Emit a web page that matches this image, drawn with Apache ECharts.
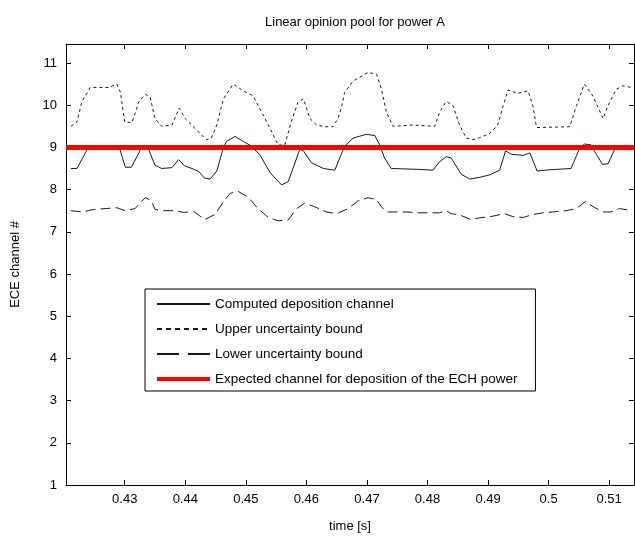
<!DOCTYPE html>
<html>
<head>
<meta charset="utf-8">
<script src="https://cdn.jsdelivr.net/npm/echarts@6/dist/echarts.min.js"></script>
<style>html,body{margin:0;padding:0;background:#fff}#c{width:635px;height:538px}</style>
</head>
<body>
<div id="c"></div>
<script>
// ---- data ----
const computedTimes = [0.4211,0.4221,0.4240,0.4265,0.4291,0.4301,0.4311,0.4328,0.4338,0.4350,0.4361,0.4378,0.4389,0.4399,0.4411,0.4422,0.4432,0.4441,0.4452,0.4463,0.4468,0.4482,0.4496,0.4507,0.4523,0.4540,0.4559,0.4570,0.4589,0.4595,0.4608,0.4628,0.4647,0.4655,0.4663,0.4677,0.4699,0.4713,0.4721,0.4729,0.4740,0.4784,0.4809,0.4820,0.4831,0.4839,0.4856,0.4870,0.4886,0.4903,0.4919,0.4929,0.4938,0.4958,0.4969,0.4981,0.5002,0.5037,0.5051,0.5059,0.5070,0.5079,0.5089,0.5098,0.5109,0.5125,0.5140];
const computedValues = [8.50,8.50,9.00,9.02,9.00,8.53,8.53,9.00,9.00,8.58,8.50,8.52,8.71,8.56,8.50,8.43,8.27,8.25,8.44,9.00,9.14,9.26,9.14,9.05,8.83,8.40,8.11,8.19,8.95,8.92,8.64,8.50,8.46,8.75,9.02,9.22,9.31,9.28,9.06,8.75,8.50,8.48,8.46,8.66,8.78,8.75,8.36,8.25,8.29,8.35,8.46,8.92,8.84,8.81,8.87,8.44,8.47,8.50,8.97,9.08,9.06,8.83,8.60,8.61,8.95,9.00,9.00];

const upperTimes = [0.4211,0.4221,0.4229,0.4243,0.4273,0.4287,0.4293,0.4300,0.4312,0.4323,0.4334,0.4342,0.4350,0.4361,0.4378,0.4390,0.4400,0.4419,0.4435,0.4443,0.4452,0.4463,0.4479,0.4496,0.4512,0.4526,0.4540,0.4553,0.4564,0.4575,0.4586,0.4595,0.4606,0.4617,0.4630,0.4644,0.4652,0.4658,0.4663,0.4677,0.4702,0.4716,0.4724,0.4732,0.4743,0.4776,0.4812,0.4820,0.4831,0.4842,0.4853,0.4864,0.4875,0.4886,0.4903,0.4916,0.4925,0.4933,0.4949,0.4966,0.4974,0.4980,0.5035,0.5046,0.5059,0.5073,0.5090,0.5098,0.5112,0.5123,0.5137];
const upperValues = [9.50,9.60,10.07,10.42,10.42,10.50,10.30,9.60,9.59,10.07,10.26,10.19,9.68,9.50,9.53,9.93,9.68,9.41,9.18,9.22,9.53,10.15,10.50,10.34,10.22,9.84,9.45,9.06,9.05,9.60,10.07,10.15,9.68,9.53,9.49,9.49,9.68,9.95,10.30,10.57,10.78,10.73,10.38,9.84,9.50,9.53,9.50,9.84,10.09,9.99,9.53,9.22,9.18,9.23,9.33,9.53,9.99,10.36,10.28,10.34,9.99,9.47,9.49,9.99,10.50,10.22,9.68,9.99,10.38,10.46,10.42];

const lowerTimes = [0.4211,0.4229,0.4249,0.4268,0.4287,0.4301,0.4317,0.4334,0.4344,0.4350,0.4361,0.4383,0.4397,0.4414,0.4432,0.4449,0.4463,0.4474,0.4487,0.4504,0.4520,0.4537,0.4553,0.4570,0.4584,0.4597,0.4614,0.4633,0.4650,0.4669,0.4685,0.4702,0.4716,0.4724,0.4732,0.4765,0.4787,0.4820,0.4831,0.4839,0.4853,0.4872,0.4886,0.4908,0.4927,0.4941,0.4958,0.4974,0.4991,0.5007,0.5029,0.5046,0.5061,0.5073,0.5090,0.5103,0.5117,0.5134];
const lowerValues = [7.50,7.47,7.53,7.55,7.57,7.50,7.55,7.81,7.74,7.53,7.50,7.50,7.46,7.48,7.29,7.41,7.71,7.91,7.96,7.82,7.55,7.34,7.26,7.28,7.55,7.68,7.59,7.47,7.43,7.55,7.73,7.81,7.76,7.59,7.47,7.47,7.45,7.45,7.50,7.43,7.40,7.29,7.33,7.37,7.43,7.36,7.34,7.41,7.45,7.47,7.50,7.55,7.72,7.60,7.47,7.47,7.55,7.51];

const expectedTimes = [0.4203, 0.5141];
const expectedValues = [9, 9];

const xTicks = [0.43,0.44,0.45,0.46,0.47,0.48,0.49,0.5,0.51];
const yTicks = [1,2,3,4,5,6,7,8,9,10,11];

const seriesNames = ['Computed deposition channel','Upper uncertainty bound','Lower uncertainty bound','Expected channel for deposition of the ECH power'];
const titleText = 'Linear opinion pool for power A';
const xName = 'time [s]';
const yName = 'ECE channel #';

// ---- chart ----
const zip = (t, v) => t.map((x, i) => [x, v[i]]);
const FONT = '"Liberation Sans", Arial, sans-serif';
const X_MIN = 0.4203, X_MAX = 0.5141, Y_MIN = 1, Y_MAX = 11.45;
const lineCol = '#1a1a1a';

function xAx(pos, show) {
  return {
    type: 'value', position: pos, min: X_MIN, max: X_MAX,
    name: show ? xName : '', nameLocation: 'middle', nameGap: 35,
    nameTextStyle: { color: '#000', fontFamily: FONT, fontSize: 13 },
    axisLine: { show: true, onZero: false, lineStyle: { color: '#000', width: 1 } },
    axisTick: { show: true, inside: true, length: 5, customValues: xTicks, lineStyle: { color: '#000' } },
    axisLabel: { show: show, customValues: xTicks, margin: 8, color: '#000', fontFamily: FONT, fontSize: 13,
      formatter: v => String(v) },
    splitLine: { show: false }
  };
}
function yAx(pos, show) {
  return {
    type: 'value', position: pos, min: Y_MIN, max: Y_MAX,
    name: show ? yName : '', nameLocation: 'middle', nameGap: 44,
    nameTextStyle: { color: '#000', fontFamily: FONT, fontSize: 13 },
    axisLine: { show: true, onZero: false, lineStyle: { color: '#000', width: 1 } },
    axisTick: { show: true, inside: true, length: 5, customValues: yTicks, lineStyle: { color: '#000' } },
    axisLabel: { show: show, customValues: yTicks, margin: 9, color: '#000', fontFamily: FONT, fontSize: 13 },
    splitLine: { show: false }
  };
}

const chart = echarts.init(document.getElementById('c'), null, { renderer: 'canvas' });
chart.setOption({
  animation: false,
  backgroundColor: '#fff',
  title: { text: titleText, left: 350, top: 11, textAlign: 'center',
    textStyle: { color: '#000', fontFamily: FONT, fontSize: 13, fontWeight: 'normal' } },
  grid: { left: 66, right: 1, top: 44, bottom: 45, containLabel: false },
  xAxis: [xAx('bottom', true), xAx('top', false)],
  yAxis: [yAx('left', true), yAx('right', false)],
  legend: {
    orient: 'vertical', left: 145, top: 289,
    data: [
      { name: seriesNames[0] },
      { name: seriesNames[1], lineStyle: { type: [5, 4] } },
      { name: seriesNames[2], lineStyle: { type: [22, 9] } },
      { name: seriesNames[3], lineStyle: { width: 4 } }
    ],
    itemWidth: 53, itemHeight: 14, itemGap: 11,
    padding: [8, 18, 5, 10],
    borderColor: '#000', borderWidth: 1, backgroundColor: '#fff',
    itemStyle: { opacity: 0 },
    textStyle: { color: '#000', fontFamily: FONT, fontSize: 13.5 },
    selectedMode: false
  },
  series: [
    { name: seriesNames[0], type: 'line', data: zip(computedTimes, computedValues), symbol: 'none',
      lineStyle: { color: lineCol, width: 1, type: 'solid' }, itemStyle: { color: lineCol } },
    { name: seriesNames[1], type: 'line', data: zip(upperTimes, upperValues), symbol: 'none',
      lineStyle: { color: lineCol, width: 1, type: [3, 3] }, itemStyle: { color: lineCol } },
    { name: seriesNames[2], type: 'line', data: zip(lowerTimes, lowerValues), symbol: 'none',
      lineStyle: { color: lineCol, width: 1, type: [10, 5] }, itemStyle: { color: lineCol } },
    { name: seriesNames[3], type: 'line', data: zip(expectedTimes, expectedValues), symbol: 'none',
      lineStyle: { color: '#ff0000', width: 5, type: 'solid' }, itemStyle: { color: '#ff0000' } }
  ]
});
</script>
</body>
</html>
